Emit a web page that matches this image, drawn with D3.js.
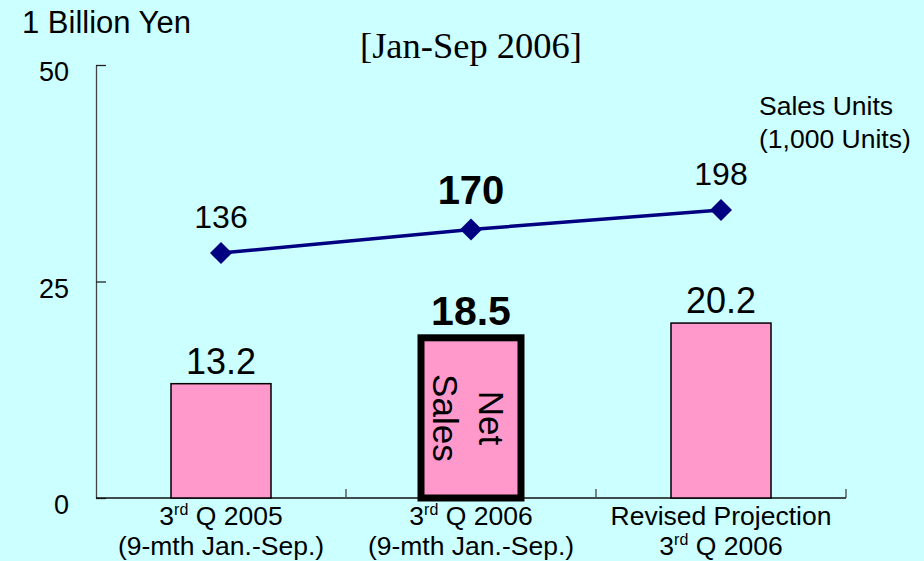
<!DOCTYPE html>
<html>
<head>
<meta charset="utf-8">
<script src="https://cdn.jsdelivr.net/npm/d3@7"></script>
<style>
  html, body { margin: 0; padding: 0; background: #ccffff; }
  svg { display: block; font-family: Arial, "Liberation Sans", sans-serif; }
</style>
</head>
<body>
<div id="chart"></div>
<script>
// data
let categories = ['q2005', 'q2006', 'proj2006'];
let catLine1 = [['3', 'rd', ' Q 2005'], ['3', 'rd', ' Q 2006'], ['Revised Projection']];
let catLine2 = [['(9-mth Jan.-Sep.)'], ['(9-mth Jan.-Sep.)'], ['3', 'rd', ' Q 2006']];
let netSales = [13.2, 18.5, 20.2];      // 1 billion yen
let salesUnits = [136, 170, 198];       // 1,000 units
let highlight = [false, true, false];
let yTicks = [0, 25, 50];

let width = 924, height = 561;
let margin = { top: 65, right: 78, bottom: 63, left: 96 };

let svg = d3.select('#chart')
    .append('svg')
    .attr('width', width)
    .attr('height', height);

svg.append('rect')
    .attr('width', width)
    .attr('height', height)
    .attr('fill', '#ccffff');

let xScale = d3.scaleBand()
    .domain(categories)
    .range([margin.left, width - margin.right])
    .paddingInner(0)
    .paddingOuter(0);

let yScale = d3.scaleLinear().domain([0, 50]).range([height - margin.bottom, margin.top]);

// hidden secondary scale for sales units
let yUnits = d3.scaleLinear().domain([-217, 407]).range([height - margin.bottom, margin.top]);

// Y axis (ticks inside)
let yAxis = svg.append('g')
    .attr('transform', 'translate(' + margin.left + ',0)')
    .call(d3.axisLeft(yScale).tickValues(yTicks).tickSizeInner(-10).tickSizeOuter(0).tickPadding(27));

yAxis.select('.domain').attr('stroke', '#444').attr('stroke-width', 1.3);
yAxis.selectAll('.tick line').attr('stroke', '#222').attr('stroke-width', 1.3);
yAxis.selectAll('.tick text')
    .attr('y', 7)
    .attr('fill', '#000')
    .style('font-size', '27px')
    .style('font-family', 'Arial, "Liberation Sans", sans-serif');

// X axis baseline with upward ticks at band edges
let x0 = yScale(0);
svg.append('line')
    .attr('x1', margin.left).attr('x2', width - margin.right)
    .attr('y1', x0).attr('y2', x0)
    .attr('stroke', '#111').attr('stroke-width', 1.3);

let edges = categories.map(function(c) { return xScale(c) + xScale.bandwidth(); });
svg.selectAll('.xtick')
    .data(edges)
    .enter().append('line')
    .attr('class', 'xtick')
    .attr('x1', function(d) { return d; })
    .attr('x2', function(d) { return d; })
    .attr('y1', x0)
    .attr('y2', x0 - 9)
    .attr('stroke', '#444')
    .attr('stroke-width', 1.3);

// Bars
let barW = xScale.bandwidth() * 0.4;
let barData = categories.map(function(c, i) {
    return { cat: c, value: netSales[i], bold: highlight[i] };
});

svg.selectAll('.bar')
    .data(barData)
    .enter().append('rect')
    .attr('class', 'bar')
    .attr('x', function(d) { return xScale(d.cat) + (xScale.bandwidth() - barW) / 2; })
    .attr('y', function(d) { return yScale(d.value); })
    .attr('width', barW)
    .attr('height', function(d) { return yScale(0) - yScale(d.value); })
    .attr('fill', '#ff99cc')
    .attr('stroke', '#000')
    .attr('stroke-width', function(d) { return d.bold ? 7 : 1.5; });

svg.selectAll('.bar-label')
    .data(barData)
    .enter().append('text')
    .attr('class', 'bar-label')
    .attr('x', function(d) { return xScale(d.cat) + xScale.bandwidth() / 2; })
    .attr('y', function(d) { return yScale(d.value) - (d.bold ? 13 : 10); })
    .attr('text-anchor', 'middle')
    .style('font-size', function(d) { return d.bold ? '41px' : '36px'; })
    .style('font-weight', function(d) { return d.bold ? 'bold' : 'normal'; })
    .text(function(d) { return d.value.toFixed(1); });

// "Net Sales" rotated inside highlighted bar
let hi = barData.filter(function(d) { return d.bold; })[0];
let hiCx = xScale(hi.cat) + xScale.bandwidth() / 2;
let hiCy = (yScale(hi.value) + yScale(0)) / 2;
let netLabel = svg.append('text')
    .attr('transform', 'translate(' + hiCx + ',' + hiCy + ') rotate(90)')
    .attr('text-anchor', 'middle')
    .style('font-size', '35px');
netLabel.append('tspan').attr('x', 0).attr('y', -8).text('Net');
netLabel.append('tspan').attr('x', 0).attr('y', 38).text('Sales');

// Sales units line
let lineData = categories.map(function(c, i) {
    return { x: xScale(c) + xScale.bandwidth() / 2, y: yUnits(salesUnits[i]), v: salesUnits[i], bold: highlight[i] };
});

svg.append('path')
    .datum(lineData)
    .attr('d', d3.line().x(function(d) { return d.x; }).y(function(d) { return d.y; }))
    .attr('fill', 'none')
    .attr('stroke', '#000080')
    .attr('stroke-width', 3.5);

svg.selectAll('.marker')
    .data(lineData)
    .enter().append('path')
    .attr('class', 'marker')
    .attr('transform', function(d) { return 'translate(' + d.x + ',' + d.y + ')'; })
    .attr('d', 'M0,-11L11,0L0,11L-11,0Z')
    .attr('fill', '#000080');

svg.selectAll('.line-label')
    .data(lineData)
    .enter().append('text')
    .attr('class', 'line-label')
    .attr('x', function(d) { return d.x; })
    .attr('y', function(d) { return d.y - 25; })
    .attr('text-anchor', 'middle')
    .style('font-size', function(d) { return d.bold ? '40px' : '32px'; })
    .style('font-weight', function(d) { return d.bold ? 'bold' : 'normal'; })
    .text(function(d) { return d.v; });

// Category labels
function addCatLine(parts, x, y) {
    let t = svg.append('text')
        .attr('x', x)
        .attr('y', y)
        .attr('text-anchor', 'middle')
        .style('font-size', '26.5px');
    parts.forEach(function(p, j) {
        if (p === 'rd') {
            t.append('tspan').attr('dy', -10).style('font-size', '16px').text(p);
        } else {
            let ts = t.append('tspan').text(p);
            if (j > 0 && parts[j - 1] === 'rd') ts.attr('dy', 10);
        }
    });
}
categories.forEach(function(c, i) {
    let cx = xScale(c) + xScale.bandwidth() / 2;
    addCatLine(catLine1[i], cx, 525);
    addCatLine(catLine2[i], cx, 555);
});

// Titles
svg.append('text')
    .attr('x', 22).attr('y', 33)
    .style('font-size', '31px')
    .text('1 Billion Yen');

svg.append('text')
    .attr('x', 471).attr('y', 58)
    .attr('text-anchor', 'middle')
    .style('font-family', '"Liberation Serif", "Times New Roman", serif')
    .style('font-size', '36.5px')
    .text('[Jan-Sep 2006]');

svg.append('text')
    .attr('x', 759).attr('y', 115)
    .style('font-size', '26.5px')
    .text('Sales Units');
svg.append('text')
    .attr('x', 759).attr('y', 148)
    .style('font-size', '26.5px')
    .text('(1,000 Units)');
</script>
</body>
</html>
